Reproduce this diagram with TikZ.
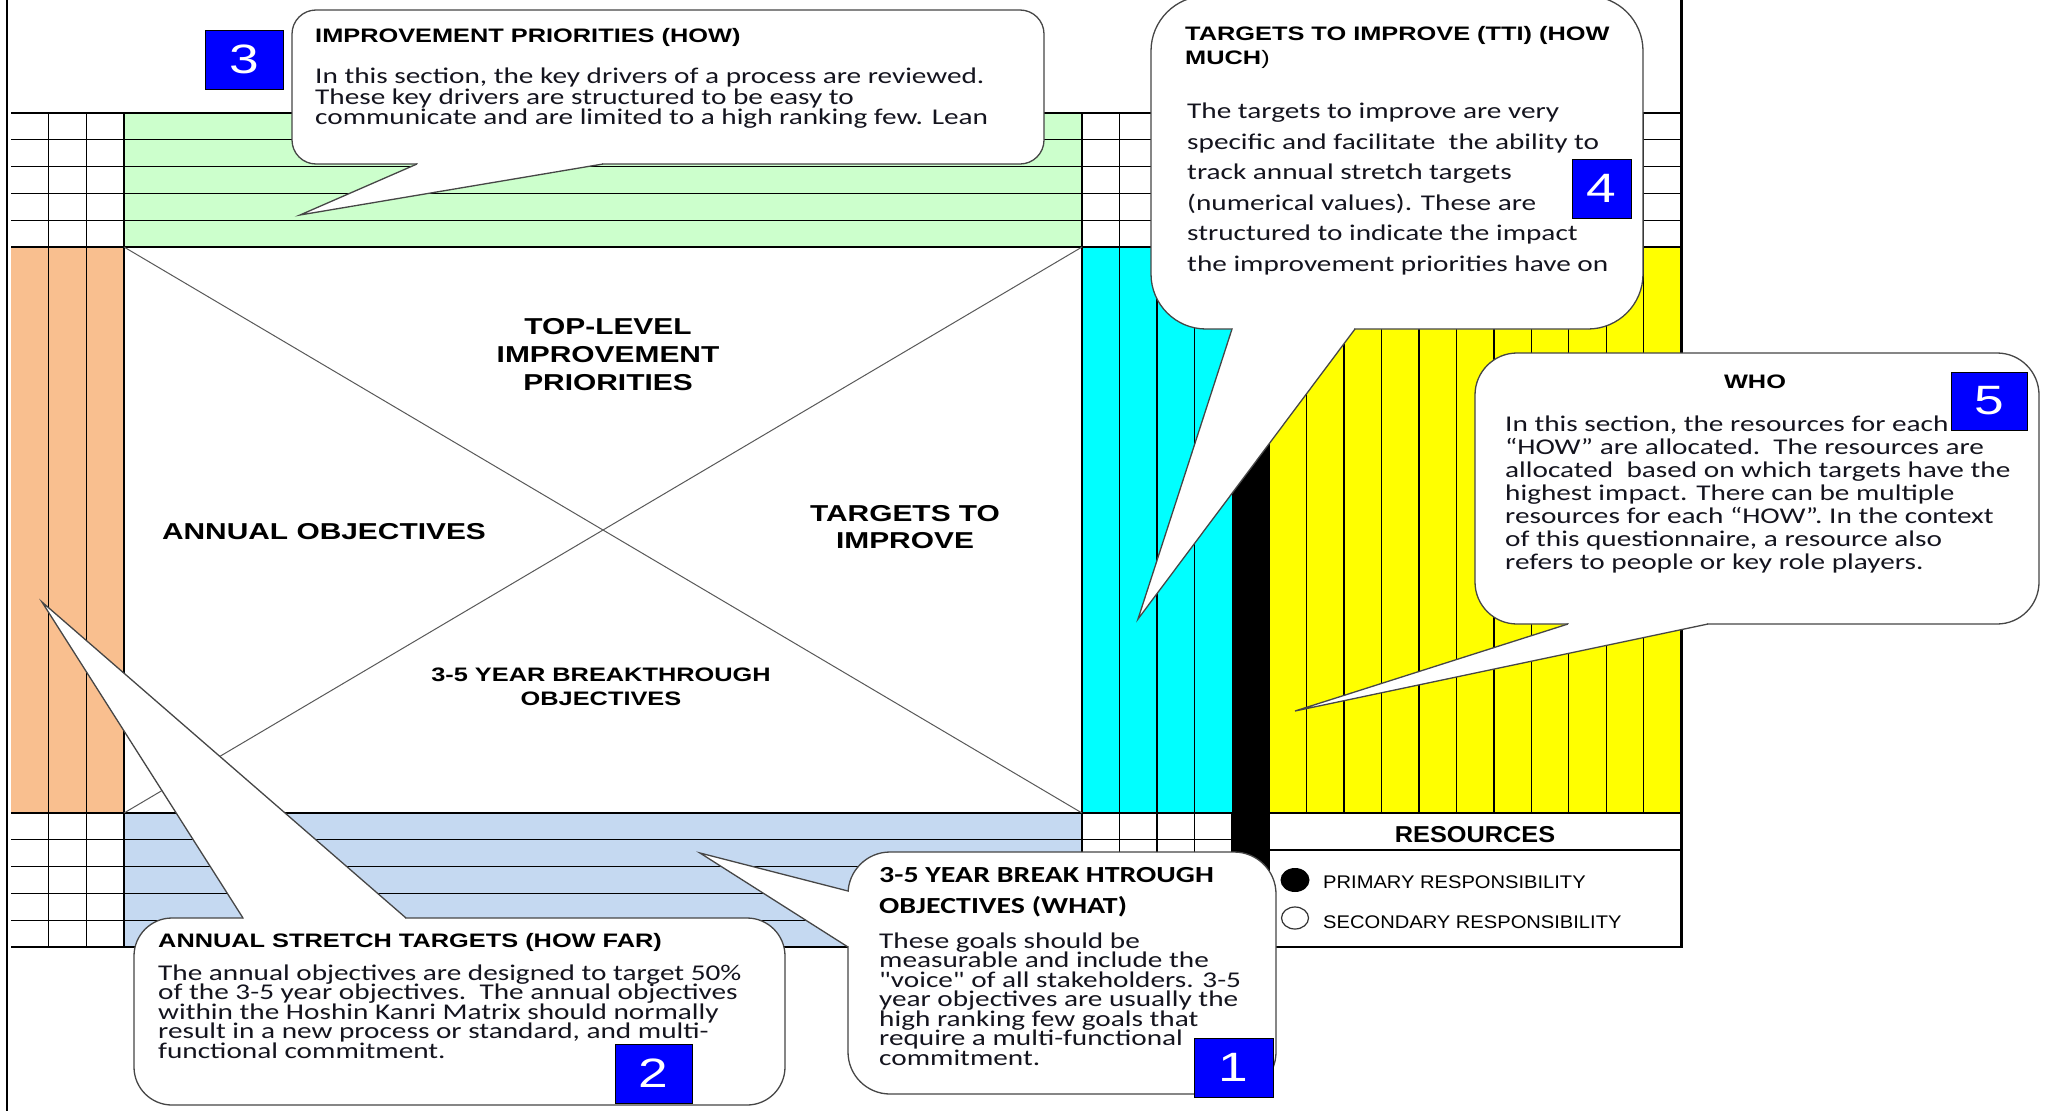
\documentclass[tikz,border=0pt]{standalone}
\usepackage{fontspec}
\setmainfont{Liberation Sans}
\newfontfamily\hfont[FakeStretch=1.3]{Liberation Sans}
\newfontfamily\lfont[FakeStretch=1.1]{Liberation Sans}
\newfontfamily\cfont[FakeStretch=1.3]{Carlito}
\definecolor{pgreen}{RGB}{204,255,204}
\definecolor{porange}{RGB}{249,191,143}
\definecolor{pblue}{RGB}{197,217,241}
\definecolor{pcyan}{RGB}{0,255,255}
\definecolor{pyellow}{RGB}{255,255,0}
\definecolor{nblue}{RGB}{0,0,255}
\definecolor{cborder}{RGB}{70,70,70}
\definecolor{btext}{RGB}{20,20,30}
\begin{document}
\begin{tikzpicture}[x=1pt,y=-1pt,
  gthin/.style={line width=1.3pt, black},
  gthick/.style={line width=2.6pt, black},
  diag/.style={line width=1pt, black!65},
  callout/.style={fill=white, draw=cborder, line width=1.3pt},
  erase/.style={white, line width=2.8pt},
  ptr/.style={draw=cborder, line width=1.3pt},
  numbox/.style={fill=nblue, draw=black, line width=0.8pt},
  numt/.style={font=\hfont\fontsize{41}{41}\selectfont, text=white, inner sep=0pt},
  ttl/.style={font=\hfont\bfseries\fontsize{19.5}{19.5}\selectfont, anchor=base west, inner sep=0pt},
  cttl/.style={font=\cfont\bfseries\fontsize{23}{23}\selectfont, anchor=base west, inner sep=0pt},
  body/.style={font=\cfont\fontsize{22.5}{22.5}\selectfont, anchor=base west, inner sep=0pt, text=btext},
  bigl/.style={font=\hfont\bfseries\fontsize{23}{23}\selectfont, anchor=base, inner sep=0pt},
  midl/.style={font=\hfont\bfseries\fontsize{19.5}{19.5}\selectfont, anchor=base, inner sep=0pt},
  legt/.style={font=\lfont\fontsize{18.3}{18.3}\selectfont, anchor=base west, inner sep=0pt},
  rest/.style={font=\lfont\bfseries\fontsize{23}{23}\selectfont, anchor=base, inner sep=0pt}]
\useasboundingbox (0,0) rectangle (2047,1111);
\fill[white] (0,0) rectangle (2047,1111);

% ---------- colour fields ----------
\fill[pgreen] (124,113) rectangle (1082,247);
\fill[porange] (11,247) rectangle (124,813);
\fill[white] (124,247) rectangle (1082,813);
\fill[pblue] (124,813) rectangle (1082,947);
\fill[pcyan] (1082,247) rectangle (1232,813);
\fill[black] (1232,247) rectangle (1269.8,947);
\fill[pyellow] (1269.8,247) rectangle (1681,813);

% ---------- grid lines ----------
\foreach \y in {139.8,166.6,193.4,220.2} \draw[gthin] (11,\y) -- (1681,\y);
\foreach \y in {839.8,866.6,893.4,920.2} \draw[gthin] (11,\y) -- (1232,\y);
\foreach \x in {48.7,86.3} \draw[gthin] (\x,113) -- (\x,947);
\foreach \k in {1,...,15} \draw[gthin] ({1082+37.44*\k},113) -- ({1082+37.44*\k},247);
\foreach \k in {1,2,3} \draw[gthin] ({1082+37.44*\k},247) -- ({1082+37.44*\k},947);
\foreach \k in {6,...,15} \draw[gthin] ({1082+37.44*\k},247) -- ({1082+37.44*\k},813);
\draw[gthin] (1232,813) -- (1232,947);
% resources / legend
\fill[white] (1269.8,813) rectangle (1681,947);
\draw[gthin] (1269.8,850) -- (1681,850);
\draw[gthin] (1269.8,813) -- (1269.8,947);
% thick borders
\draw[gthick] (11,113) -- (1681,113);
\draw[gthick] (11,247) -- (1681,247);
\draw[gthick] (11,813) -- (1681,813);
\draw[gthick] (11,947) -- (1232,947);
\draw[gthick] (1269.8,947) -- (1681,947);
\draw[gthick] (124,113) -- (124,947);
\draw[gthick] (1082,113) -- (1082,947);
\draw[line width=3pt] (1681,0) -- (1681,948);
\draw[line width=2pt] (7,0) -- (7,1111);

% ---------- centre matrix ----------
\draw[diag] (124,247) -- (1082,813);
\draw[diag] (124,813) -- (1082,247);
\node[bigl] (tl1) at (608,334) {TOP-LEVEL};
\node[bigl] (tl2) at (608,362) {IMPROVEMENT};
\node[bigl] (tl3) at (608,390) {PRIORITIES};
\node[bigl] (ao) at (324,539) {ANNUAL\ OBJECTIVES};
\node[bigl] (tt1) at (905,521) {TARGETS TO};
\node[bigl] (tt2) at (905,548) {IMPROVE};
\node[midl] (by1) at (601,681) {3-5 YEAR BREAKTHROUGH};
\node[midl] (by2) at (601,705) {OBJECTIVES};

% ---------- resources legend ----------
\node[rest] (res) at (1475,842) {RESOURCES};
\fill[black] (1295,880) ellipse [x radius=14.5pt, y radius=12pt];
\draw[line width=1.2pt, black!80] (1295,918) ellipse [x radius=13.5pt, y radius=11pt];
\node[legt] (prim) at (1323,888) {PRIMARY RESPONSIBILITY};
\node[legt] (sec) at (1323,928) {SECONDARY RESPONSIBILITY};

% ---------- callout 3 ----------
\filldraw[callout, rounded corners=24pt] (292,10) rectangle (1044,164);
\fill[white] (417,164) -- (300,215) -- (603,164) -- cycle;
\draw[erase] (418,164) -- (602,164);
\draw[ptr] (417,164) -- (300,215) -- (603,164);
\node[ttl] (c3t) at (315,42) {IMPROVEMENT PRIORITIES (HOW)};
\node[body] (c3a) at (315,83) {In this section, the key drivers of a process are reviewed.};
\node[body] (c3b) at (315,104) {These key drivers are structured to be easy to};
\node[body] (c3c) at (315,124) {communicate and are limited to a high ranking few. Lean};
\filldraw[numbox] (205,30) rectangle (283,89);
\node[numt] (n3) at (244,59.5) {3};

% ---------- callout 4 ----------
\filldraw[callout, rounded corners=55pt] (1151,-4) rectangle (1643,329);
\fill[white] (1232,329) -- (1138,619) -- (1355,329) -- cycle;
\draw[erase] (1233,329) -- (1354,329);
\draw[ptr] (1232,329) -- (1138,619) -- (1355,329);
\node[ttl] (c4t1) at (1185,40) {TARGETS TO IMPROVE (TTI) (HOW};
\node[ttl] (c4t2) at (1185,64) {MUCH\textmd{)}};
\node[body] (c4a) at (1187,118.5) {The targets to improve are very};
\node[body] (c4b) at (1187,149) {specific and facilitate\ \ the ability to};
\node[body] (c4c) at (1187,179.5) {track annual stretch targets};
\node[body] (c4d) at (1187,210) {(numerical values). These are};
\node[body] (c4e) at (1187,240.5) {structured to indicate the impact};
\node[body] (c4f) at (1187,271) {the improvement priorities have on};
\filldraw[numbox] (1572,159) rectangle (1631,218);
\node[numt] (n4) at (1601.5,188.5) {4};

% ---------- callout 5 ----------
\filldraw[callout, rounded corners=42pt] (1475,353) rectangle (2039,624);
\fill[white] (1568,624) -- (1295,711) -- (1708,624) -- cycle;
\draw[erase] (1569,624) -- (1707,624);
\draw[ptr] (1568,624) -- (1295,711) -- (1708,624);
\node[ttl, anchor=base] (c5t) at (1755,388) {WHO};
\node[body] (c5a) at (1505,431) {In this section, the resources for each};
\node[body] (c5b) at (1505,454) {“HOW” are allocated.\ \ The resources are};
\node[body] (c5c) at (1505,477) {allocated\ \ based on which targets have the};
\node[body] (c5d) at (1505,500) {highest impact. There can be multiple};
\node[body] (c5e) at (1505,523) {resources for each “HOW”. In the context};
\node[body] (c5f) at (1505,546) {of this questionnaire, a resource also};
\node[body] (c5g) at (1505,569) {refers to people or key role players.};
\filldraw[numbox] (1951,372) rectangle (2027,430);
\node[numt] (n5) at (1989,401) {5};

% ---------- callout 1 ----------
\filldraw[callout, rounded corners=42pt] (848,852) rectangle (1276,1094);
\fill[white] (848,891) -- (700,853) -- (848,947) -- cycle;
\draw[erase] (848,892) -- (848,946);
\draw[ptr] (848,891) -- (700,853) -- (848,947);
\node[cttl] (c1t1) at (879,882) {3-5 YEAR BREAK HTROUGH};
\node[cttl] (c1t2) at (879,913) {OBJECTIVES (WHAT)};
\node[body] (c1a) at (879,948) {These goals should be};
\node[body] (c1b) at (879,967.5) {measurable and include the};
\node[body] (c1c) at (879,987) {"voice" of all stakeholders. 3-5};
\node[body] (c1d) at (879,1006.5) {year objectives are usually the};
\node[body] (c1e) at (879,1026) {high ranking few goals that};
\node[body] (c1f) at (879,1045.5) {require a multi-functional};
\node[body] (c1g) at (879,1065) {commitment.};
\filldraw[numbox] (1194,1038) rectangle (1273,1097);
\node[numt] (n1) at (1233.5,1067.5) {1};

% ---------- callout 2 ----------
\filldraw[callout, rounded corners=38pt] (134,918) rectangle (785,1105);
\fill[white] (243,918) -- (42,602) -- (406,918) -- cycle;
\draw[erase] (244,918) -- (405,918);
\draw[ptr] (243,918) -- (42,602) -- (406,918);
\node[ttl] (c2t) at (158,947) {ANNUAL STRETCH TARGETS (HOW FAR)};
\node[body] (c2a) at (158,980) {The annual objectives are designed to target 50\%};
\node[body] (c2b) at (158,999.5) {of the 3-5 year objectives.\ \ The annual objectives};
\node[body] (c2c) at (158,1019) {within the Hoshin Kanri Matrix should normally};
\node[body] (c2d) at (158,1038.5) {result in a new process or standard, and multi-};
\node[body] (c2e) at (158,1058) {functional commitment.};
\filldraw[numbox] (615,1044) rectangle (692,1103);
\node[numt] (n2) at (653.5,1073.5) {2};
\end{tikzpicture}
\end{document}
